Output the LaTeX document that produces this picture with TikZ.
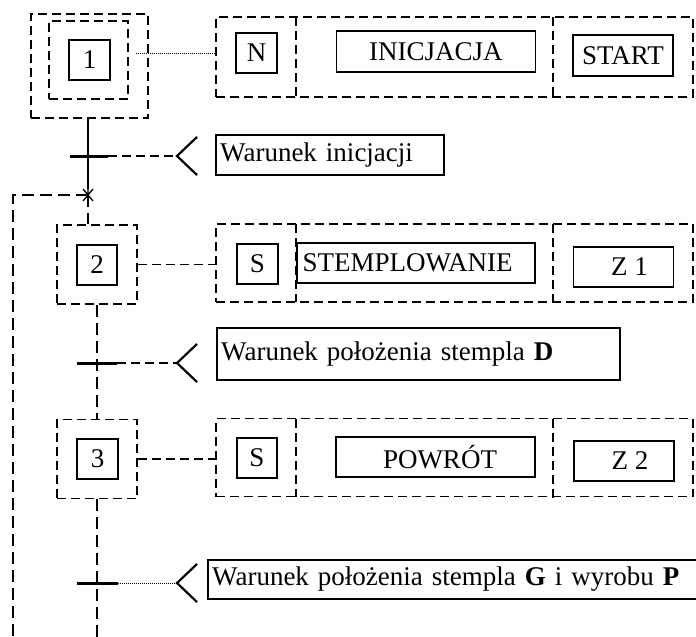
\documentclass[tikz,border=0pt]{standalone}
\usepackage{fontspec}
\setmainfont{Liberation Serif}
\begin{document}
\begin{tikzpicture}[x=1pt,y=-1pt,
  font=\fontsize{27}{30}\selectfont,
  dashbox/.style={draw, line width=1.8pt, dash pattern=on 9pt off 5pt, inner sep=0pt},
  dashln/.style={line width=1.8pt, dash pattern=on 9pt off 5pt},
  flowdash/.style={line width=1.8pt, dash pattern=on 12pt off 6pt},
  labelbox/.style={draw, line width=1.2pt, inner sep=0pt},
  condbox/.style={draw, line width=2.4pt, inner sep=4pt, align=left, anchor=west},
  bar/.style={line width=3pt},
  chev/.style={line width=2.2pt},
  dotline/.style={line width=1pt, dash pattern=on 1pt off 1pt},
]
\useasboundingbox (0,0) rectangle (696,637);

% ---- step 1 (initial step, double frame)
\node[dashbox, minimum width=117pt, minimum height=104pt] (s1out) at (89.5,66) {};
\node[dashbox, minimum width=79pt, minimum height=78pt] (s1in) at (88.5,60) {};
\node[labelbox, minimum width=41pt, minimum height=40pt] (s1) at (89.5,60) {1};

% ---- action block of step 1
\node[dashbox, minimum width=477pt, minimum height=80pt] (a1) at (454.5,57) {};
\draw[dashln] (296,17) -- (296,97);
\draw[dashln] (553,17) -- (553,97);
\node[labelbox, minimum width=41pt, minimum height=40pt] (n1) at (256.5,53) {N};
\node[labelbox, minimum width=199pt, minimum height=41pt] (act1) at (436,51.5) {INICJACJA};
\node[labelbox, minimum width=100pt, minimum height=41pt] (v1) at (623,55.5) {START};
\coordinate (d1) at (136,53);
\draw[dotline] (d1) -- (d1 -| a1.west);

% ---- transition 1
\coordinate (t1) at (88,156);
\coordinate (j1) at (88,195);
\node[condbox, text width=220pt, minimum height=40pt] (c1) at (215,155) {Warunek inicjacji};
\coordinate (k1) at (177,156);
\draw[line width=2.4pt] (s1out.south -| t1) -- (t1) -- ++(0,21);
\draw[bar] (70,156) -- (108,156);
\draw[dashln] (108,156) -- (k1);
\draw[chev] (k1) ++(20,-19) -- (k1) -- ++(20,19);

% ---- step 2
\node[dashbox, minimum width=80pt, minimum height=79pt] (s2out) at (97,264.5) {};
\node[labelbox, minimum width=40pt, minimum height=40pt] (s2) at (97,265) {2};
\draw[flowdash] (88,177) -- (s2out.north -| t1);
% junction of the return line
\draw[line width=1.3pt] (83,189) -- (93,201) (83,201) -- (93,189) (88,187) -- (88,203);
\draw[flowdash] (j1) -- (13,195) -- (13,645);

% ---- action block of step 2
\node[dashbox, minimum width=477pt, minimum height=78pt] (a2) at (454.5,263) {};
\draw[dashln] (296,224) -- (296,302);
\draw[dashln] (553,224) -- (553,307);
\node[labelbox, minimum width=41pt, minimum height=40pt] (n2) at (257.5,264) {S};
\node[labelbox, minimum width=238pt, minimum height=40pt, inner xsep=3pt] (act2) at (416,263) {STEMPLOWANIE\hspace*{17pt}};
\node[labelbox, minimum width=100pt, minimum height=40pt] (v2) at (623.5,267) {\hspace*{12pt}Z 1};
\draw[dashln] (s2out.east) -- (s2out.east -| a2.west);

% ---- transition 2
\coordinate (t2) at (97,363);
\coordinate (k2) at (177,363);
\node[condbox, text width=395pt, minimum height=52pt] (c2) at (216,354) {Warunek położenia stempla \textbf{D}};
\draw[bar] (77,363) -- (117,363);
\draw[dashln] (117,363) -- (k2);
\draw[chev] (k2) ++(20,-19) -- (k2) -- ++(20,19);

% ---- step 3
\node[dashbox, minimum width=80pt, minimum height=79pt] (s3out) at (97,459) {};
\node[labelbox, minimum width=41pt, minimum height=40pt] (s3) at (97.5,459) {3};
\draw[flowdash] (s2out.south) -- (t2) -- (s3out.north);

% ---- action block of step 3
\node[dashbox, minimum width=477pt, minimum height=78pt] (a3) at (454.5,457.5) {};
\draw[dashln] (296,419) -- (296,497);
\draw[dashln] (553,419) -- (553,501);
\node[labelbox, minimum width=40pt, minimum height=40pt] (n3) at (257,458) {S};
\node[labelbox, minimum width=199pt, minimum height=40pt] (act3) at (435.5,457) {\hspace*{9pt}POWRÓT};
\node[labelbox, minimum width=100pt, minimum height=40pt] (v3) at (624,461) {\hspace*{12pt}Z 2};
\draw[dashln] (s3out.east) -- (s3out.east -| a3.west);

% ---- transition 3
\coordinate (t3) at (97,583);
\coordinate (k3) at (177,583);
\node[condbox, text width=520pt, minimum height=39pt] (c3) at (207,579.5) {Warunek położenia stempla \textbf{G} i wyrobu \textbf{P}};
\draw[flowdash] (s3out.south) -- (t3) -- (97,645);
\draw[bar] (77,583) -- (118,583);
\draw[dotline] (118,583) -- (k3);
\draw[chev] (k3) ++(20,-19) -- (k3) -- ++(20,19);
\end{tikzpicture}
\end{document}
